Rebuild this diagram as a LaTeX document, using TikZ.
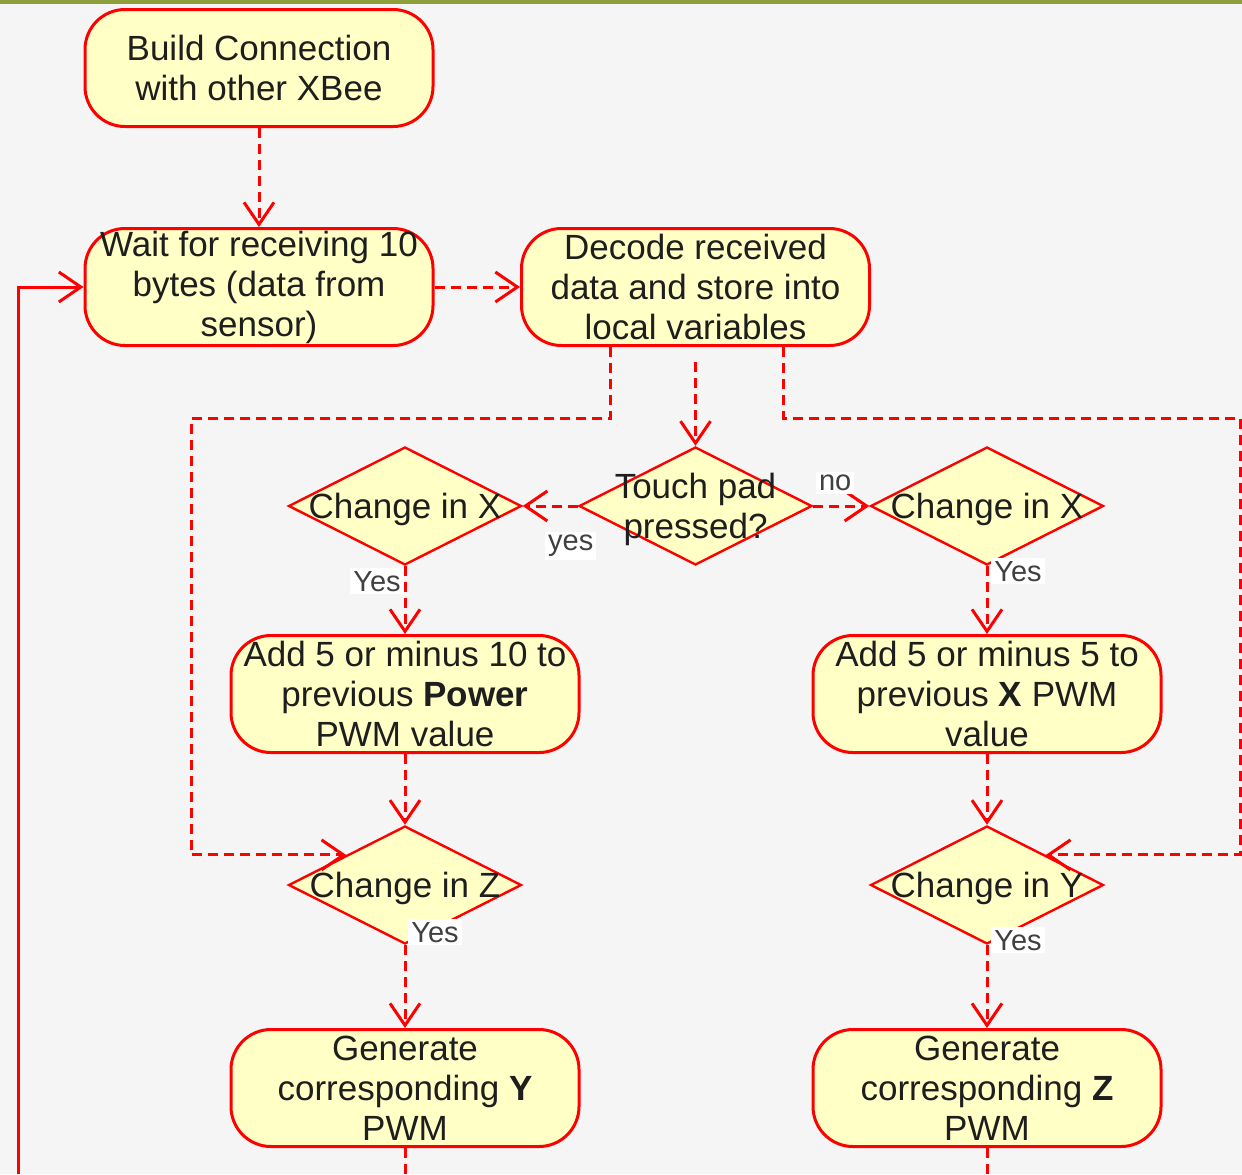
\documentclass[tikz,border=0pt]{standalone}
\usepackage{fontspec}
\setmainfont{Liberation Sans}
\usetikzlibrary{shapes.geometric,arrows.meta,calc}
\definecolor{flowred}{HTML}{FF0000}
\definecolor{boxfill}{HTML}{FFFFC6}
\definecolor{paper}{HTML}{F5F5F5}
\definecolor{rulegreen}{HTML}{8DA03C}
\definecolor{ink}{HTML}{1E1E1E}

\begin{document}
\begin{tikzpicture}[x=0.5pt,y=-0.5pt,
  activity/.style={draw=flowred, line width=1.5pt, fill=boxfill,
    rounded corners=20pt, minimum width=174pt, minimum height=58.5pt,
    inner sep=0pt, align=center, text=ink,
    font=\fontsize{17.5}{20}\selectfont},
  decision/.style={diamond, draw=flowred, line width=1.2pt, fill=boxfill,
    minimum width=116.5pt, minimum height=59pt, inner sep=0pt},
  dtext/.style={align=center, text=ink, inner sep=0pt, yshift=-1.5pt,
    font=\fontsize{17.5}{20}\selectfont},
  flow/.style={draw=flowred, line width=1.5pt, dash pattern=on 5pt off 3pt,
    -{Straight Barb[length=11pt,width=15pt]}},
  tail/.style={draw=flowred, line width=1.5pt, dash pattern=on 5pt off 3pt},
  loopback/.style={draw=flowred, line width=1.5pt,
    -{Straight Barb[length=11pt,width=15pt]}},
  lbl/.style={fill=white, inner sep=1.5pt, text=ink!85,
    font=\fontsize{14.5}{16}\selectfont}
]
% page
\useasboundingbox (0,0) rectangle (1242,1174);
\fill[paper] (0,0) rectangle (1242,1174);
\fill[rulegreen] (0,0) rectangle (1242,4);

% activities
\node[activity] (build) at (259,68)  {Build Connection\\with other XBee};
\node[activity] (wait)  at (259,287) {Wait for receiving 10\\bytes (data from\\sensor)};
\node[activity] (dec)   at (695.5,287) {Decode received\\data and store into\\local variables};
\node[activity] (a10)   at (405,694) {Add 5 or minus 10 to\\previous \textbf{Power}\\PWM value};
\node[activity] (a5)    at (987,694) {Add 5 or minus 5 to\\previous \textbf{X} PWM\\value};
\node[activity] (gy)    at (405,1088) {Generate\\corresponding \textbf{Y}\\PWM};
\node[activity] (gz)    at (987,1088) {Generate\\corresponding \textbf{Z}\\PWM};

% decisions
\node[decision, label={[dtext]center:{Touch pad\\pressed?}}] (tp)  at (695.5,506) {};
\node[decision, label={[dtext]center:{Change in X}}]          (cxl) at (405,506) {};
\node[decision, label={[dtext]center:{Change in X}}]          (cxr) at (987,506) {};
\node[decision, label={[dtext]center:{Change in Z}}]          (cz)  at (405,885) {};
\node[decision, label={[dtext]center:{Change in Y}}]          (cy)  at (987,885) {};

% rails of the side branches and the open ends at the bottom
\coordinate (lsplit) at ($(dec.south)+(-85,0)$);
\coordinate (rsplit) at ($(dec.south)+(88,0)$);
\coordinate (lrail) at (191,418);
\coordinate (rrail) at (1240,418);
\coordinate (yend) at (405,1174);
\coordinate (zend) at (987,1174);
\coordinate (back) at (18,1174);

% connectors
\draw[flow] (build) -- (wait);
\draw[flow] (wait) -- (dec);
\draw[flow, shorten <=7.5pt] (dec) -- (tp);
\draw[flow] (lsplit) -- (lsplit |- lrail) -- (lrail) |- (cz.north west);
\draw[flow] (rsplit) -- (rsplit |- rrail) -- (rrail) |- (cy.north east);
\draw[flow] (tp) -- (cxl);
\draw[flow] (tp) -- (cxr);
\draw[flow] (cxl) -- (a10);
\draw[flow] (cxr) -- (a5);
\draw[flow] (a10) -- (cz);
\draw[flow] (a5) -- (cy);
\draw[flow] (cz) -- (gy);
\draw[flow] (cy) -- (gz);
\draw[tail] (gy) -- (yend);
\draw[tail] (gz) -- (zend);
\draw[loopback] (back) |- (wait.west);

% branch labels
\node[lbl] (yesl) at ($(tp.west)+(-7,40)$) {yes};
\node[lbl] (nor)  at ($(tp.east)+(22,-23)$) {no};
\node[lbl] (ycxl) at ($(cxl.south)+(-28,15)$) {Yes};
\node[lbl] (ycxr) at ($(cxr.south)+(31,5)$) {Yes};
\node[lbl] (ycz)  at ($(cz.south)+(30,-13)$) {Yes};
\node[lbl] (ycy)  at ($(cy.south)+(31,-5)$) {Yes};
\end{tikzpicture}
\end{document}
